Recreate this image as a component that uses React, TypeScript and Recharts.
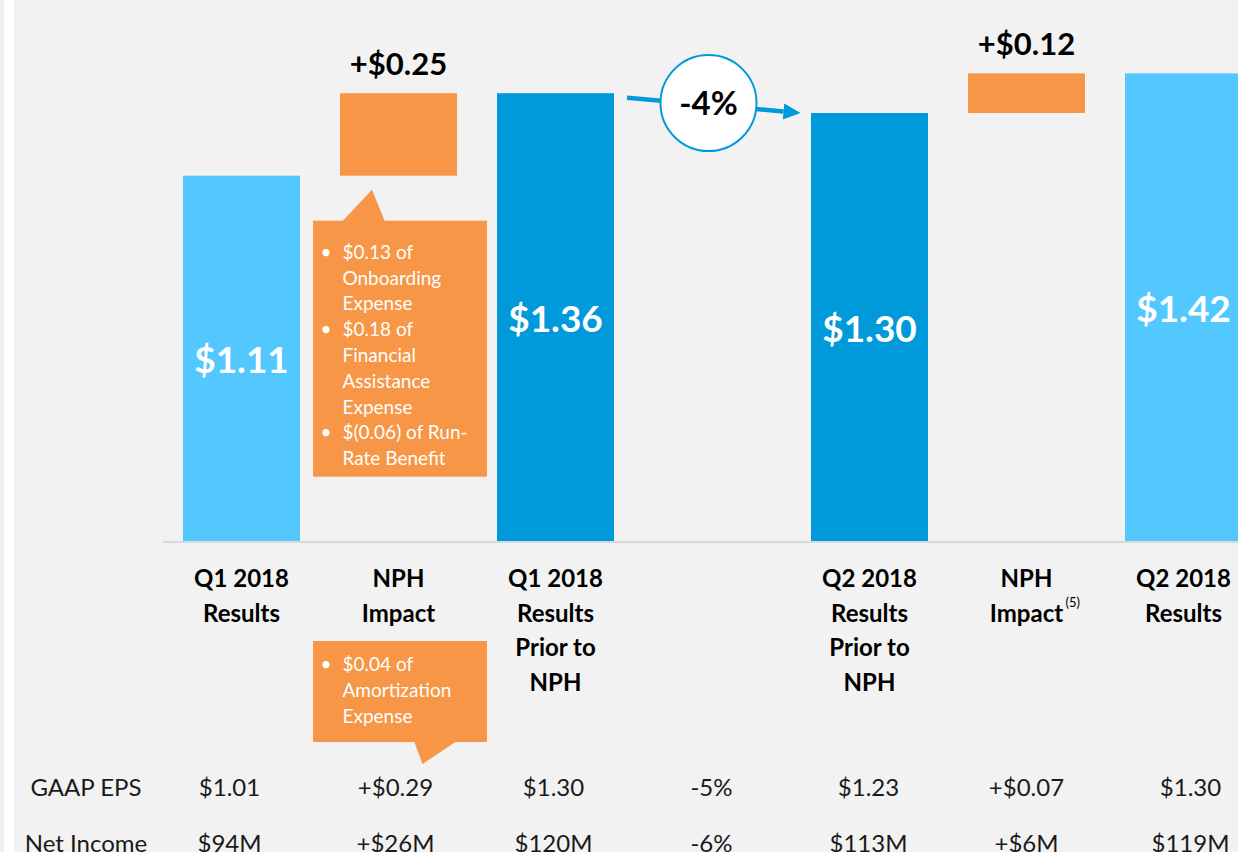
import { BarChart, Bar, XAxis, YAxis, ReferenceLine } from "recharts";

const keys = ["q1", "nph1", "q1prior", "gap", "q2prior", "nph2", "q2"];
const tickLines = [
  ["Q1 2018", "Results"],
  ["NPH", "Impact"],
  ["Q1 2018", "Results", "Prior to", "NPH"],
  [],
  ["Q2 2018", "Results", "Prior to", "NPH"],
  ["NPH", "Impact"],
  ["Q2 2018", "Results"],
];
const tickNotes = ["", "", "", "", "", "(5)", ""];
const baseValues = [0, 1.11, 0, null, 0, 1.3, 0];
const stepValues = [1.11, 0.25, 1.36, null, 1.3, 0.12, 1.42];
const barKinds = ["total", "delta", "prior", "", "prior", "delta", "total"];
const gaapEps = ["$1.01", "+$0.29", "$1.30", "-5%", "$1.23", "+$0.07", "$1.30"];
const netIncome = ["$94M", "+$26M", "$120M", "-6%", "$113M", "+$6M", "$119M"];
const rowLabels = ["GAAP EPS", "Net Income"];
const changeLabel = "-4%";
const upperNote = [
  ["$0.13 of", "Onboarding", "Expense"],
  ["$0.18 of", "Financial", "Assistance", "Expense"],
  ["$(0.06) of Run-", "Rate Benefit"],
];
const lowerNote = [["$0.04 of", "Amortization", "Expense"]];

const colors: Record<string, string> = {
  total: "#52c8ff",
  delta: "#f79646",
  prior: "#0099da",
};
const font = "Lato, 'Open Sans', sans-serif";
// small horizontal nudges of the table columns, as in the slide
const tableShift = [-12, -3, -2, -1, -1, 0, 7];

const data = keys.map((key, i) => ({
  key,
  base: baseValues[i],
  step: stepValues[i],
}));

const NoteLines = ({ left, firstBaseline, groups }: any) => {
  const out: any[] = [];
  let row = 0;
  groups.forEach((group: string[], g: number) => {
    group.forEach((line, j) => {
      const by = firstBaseline + row * 25.8;
      if (j === 0) {
        out.push(
          <text key={`b${g}`} x={left + 13} y={by} fontSize={19} fill="#fff" textAnchor="middle" fontFamily={font}>
            •
          </text>
        );
      }
      out.push(
        <text key={`t${g}-${j}`} x={left + 29.5} y={by} fontSize={19} fill="#fff" fontFamily={font}>
          {line}
        </text>
      );
      row++;
    });
  });
  return <g>{out}</g>;
};

const UpperNote = ({ cx, barBottom }: any) => {
  const left = cx - 85.5;
  const top = barBottom + 45;
  return (
    <g>
      <rect x={left} y={top} width={174} height={256} fill={colors.delta} />
      <polygon
        points={`${cx - 56.5},${top + 1} ${cx - 26.5},${barBottom + 14} ${cx - 13.5},${top + 1}`}
        fill={colors.delta}
      />
      <NoteLines left={left} firstBaseline={top + 38} groups={upperNote} />
    </g>
  );
};

const LowerNote = ({ cx, axisY }: any) => {
  const left = cx - 85.5;
  const top = axisY + 99;
  const bottom = top + 101;
  return (
    <g>
      <rect x={left} y={top} width={174} height={101} fill={colors.delta} />
      <polygon
        points={`${cx + 15.5},${bottom - 1} ${cx + 24},${bottom + 22} ${cx + 58.5},${bottom - 1}`}
        fill={colors.delta}
      />
      <NoteLines left={left} firstBaseline={top + 30} groups={lowerNote} />
    </g>
  );
};

const StepBar = (props: any) => {
  const { x, y, width, height, payload } = props;
  const i = keys.indexOf(payload.key);
  const value = stepValues[i];
  if (value == null) return null;
  const kind = barKinds[i];
  const cx = x + width / 2;
  if (kind === "delta") {
    return (
      <g>
        <rect x={x} y={y} width={width} height={height} fill={colors.delta} />
        <text x={cx} y={y - 18} textAnchor="middle" fontSize={31} fontWeight={700} fill="#000" fontFamily={font}>
          {`+$${value.toFixed(2)}`}
        </text>
        {i === 1 && <UpperNote cx={cx} barBottom={y + height} />}
      </g>
    );
  }
  return (
    <g>
      <rect x={x} y={y} width={width} height={height} fill={colors[kind]} />
      <text x={cx} y={y + height / 2 + 14} textAnchor="middle" fontSize={37} fontWeight={700} fill="#fff" fontFamily={font}>
        {`$${value.toFixed(2)}`}
      </text>
    </g>
  );
};

const CategoryTick = (props: any) => {
  const { x, y, payload } = props;
  const i = keys.indexOf(payload.value);
  const lines = tickLines[i] || [];
  const tx = x + (tableShift[i] || 0);
  return (
    <g fontFamily={font}>
      {lines.map((line, j) => (
        <text key={j} x={x} y={y + 45 + j * 34.5} textAnchor="middle" fontSize={24} fontWeight={700} fill="#000">
          {line}
        </text>
      ))}
      {tickNotes[i] && (
        <text x={x + 39} y={y + 45 + 34.5 - 15} fontSize={13} fill="#000">
          {tickNotes[i]}
        </text>
      )}
      <text x={tx} y={y + 254} textAnchor="middle" fontSize={24} fill="#1a1a1a">
        {gaapEps[i]}
      </text>
      <text x={tx} y={y + 310} textAnchor="middle" fontSize={24} fill="#1a1a1a">
        {netIncome[i]}
      </text>
      {i === 0 &&
        rowLabels.map((label, r) => (
          <text key={label} x={x - 155.5} y={y + 254 + r * 56} textAnchor="middle" fontSize={24} fill="#1a1a1a">
            {label}
          </text>
        ))}
      {i === 1 && <LowerNote cx={x} axisY={y} />}
    </g>
  );
};

const ChangeArrow = (props: any) => {
  const { x1, y1, x2, y2 } = props;
  if ([x1, y1, x2, y2].some((v) => v == null || isNaN(v))) return null;
  const sx = x1 + 71.5;
  const sy = y1 + 4.5;
  const tx = x2 - 69;
  const ty = y2;
  const len = Math.hypot(tx - sx, ty - sy);
  const ux = (tx - sx) / len;
  const uy = (ty - sy) / len;
  const bx = tx - ux * 17;
  const by = ty - uy * 17;
  const nx = -uy * 8;
  const ny = ux * 8;
  const cx = (x1 + x2) / 2 - 4;
  const cy = (y1 + y2) / 2;
  return (
    <g>
      <line x1={sx} y1={sy} x2={bx} y2={by} stroke={colors.prior} strokeWidth={4.5} />
      <polygon points={`${tx},${ty} ${bx + nx},${by + ny} ${bx - nx},${by - ny}`} fill={colors.prior} />
      <circle cx={cx} cy={cy} r={48} fill="#fff" stroke={colors.prior} strokeWidth={2} />
      <text x={cx} y={cy + 12} textAnchor="middle" fontSize={33} fontWeight={700} fill="#000" fontFamily={font}>
        {changeLabel}
      </text>
    </g>
  );
};

export default function App() {
  return (
    <div
      style={{
        position: "absolute",
        left: 0,
        top: 0,
        width: 1238,
        height: 852,
        overflow: "hidden",
        background: "#fff",
      }}
    >
      <div style={{ position: "absolute", left: 0, top: 0, width: 4, height: 852, background: "#efefef" }} />
      <div style={{ position: "absolute", left: 14, top: 0, right: 0, height: 852, background: "#f2f2f2" }} />
      <div style={{ position: "absolute", left: 0, top: 0 }}>
        <BarChart
          width={1262}
          height={852}
          data={data}
          margin={{ top: 14, right: 0, left: 163, bottom: 0 }}
          barCategoryGap={20}
        >
          <XAxis
            dataKey="key"
            height={310}
            interval={0}
            tickSize={0}
            tickMargin={0}
            tickLine={false}
            axisLine={{ stroke: "#d9d9d9", strokeWidth: 2 }}
            tick={<CategoryTick />}
          />
          <YAxis hide domain={[0, 1.6]} />
          <Bar dataKey="base" stackId="a" fill="transparent" isAnimationActive={false} />
          <Bar dataKey="step" stackId="a" shape={<StepBar />} isAnimationActive={false} />
          <ReferenceLine
            segment={[
              { x: "q1prior", y: stepValues[2] },
              { x: "q2prior", y: stepValues[4] },
            ]}
            ifOverflow="visible"
            shape={(p: any) => <ChangeArrow {...p} />}
          />
        </BarChart>
      </div>
    </div>
  );
}
